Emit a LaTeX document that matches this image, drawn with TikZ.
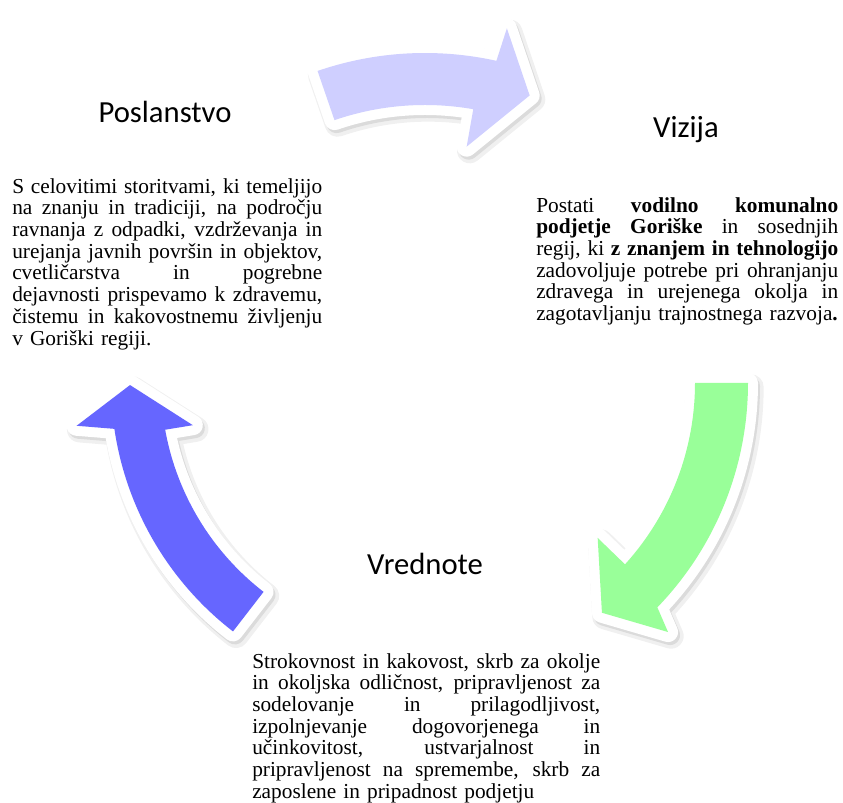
\documentclass[tikz,border=0pt]{standalone}
\usepackage{fontspec}
\setmainfont{Liberation Serif}
\newfontfamily\headfont{Carlito}
\usepackage{xcolor}
\usepackage{tikz}
\usetikzlibrary{positioning}

\definecolor{arrowlilac}{RGB}{207,207,255}
\definecolor{arrowgreen}{RGB}{153,255,153}
\definecolor{arrowblue}{RGB}{102,102,255}

\newlength{\blockwd}
\newcommand{\jline}[1]{\makebox[\blockwd][s]{\spaceskip=\fontdimen2\font plus 1fil\relax #1}}
\newcommand{\cyclearrow}[2]{%
    \begin{scope}[shift={(3,-4)}]
        \filldraw[gray!12, line width=19, line join=round] #2;
    \end{scope}
    \begin{scope}[shift={(2,-3)}]
        \filldraw[gray!28, line width=15, line join=round] #2;
    \end{scope}
    \draw[white, line width=15, line join=round] #2;
    \fill[#1] #2;
}

\begin{document}
\begin{tikzpicture}[x=0.75pt, y=0.75pt,
            heading/.style={font=\headfont\fontsize{23}{28}\selectfont, inner sep=0, anchor=base},
            body/.style={font=\fontsize{16}{16.3}\selectfont, inner sep=0, anchor=north west, align=left, text width=\blockwd}
        ]

        \useasboundingbox (0,0) rectangle (843,803);
        \coordinate (hub) at (425,420);

        \begin{scope}[shift={(hub)}]
            \cyclearrow{arrowlilac}{(109:330) arc[start angle=109, end angle=77.5, radius=330] -- (77:364) -- (70:306) -- (80:240) -- (80:278) arc[start angle=80, end angle=109, radius=278] -- cycle}
            \cyclearrow{arrowgreen}{(0:323) arc[start angle=0, end angle=-44, radius=323] -- (-45.7:348) -- (-52.4:290) -- (-41.9:232) -- (-42.2:270) arc[start angle=-42.2, end angle=0, radius=270] -- cycle}
            \cyclearrow{arrowblue}{(232.3:314) arc[start angle=232.3, end angle=188.4, radius=314] -- (187:351) -- (180.4:295) -- (190.3:236) -- (190.2:264) arc[start angle=190.2, end angle=232.3, radius=264] -- cycle}
        \end{scope}

        \node[heading] (poslanstvo) at (165,680) {Poslanstvo};
        \node[heading] (vizija) at (686,665) {Vizija};
        \node[heading] (vrednote) at (425,228) {Vrednote};

        \setlength{\blockwd}{232.5pt}
        \node[body] (poslanstvotext) at (12,625) {%
            \jline{S celovitimi storitvami, ki temeljijo}\\
            \jline{na znanju in tradiciji, na področju}\\
            \jline{ravnanja z odpadki, vzdrževanja in}\\
            \jline{urejanja javnih površin in objektov,}\\
            \jline{cvetličarstva in pogrebne}\\
            \jline{dejavnosti prispevamo k zdravemu,}\\
            \jline{čistemu in kakovostnemu življenju}\\
            v Goriški regiji.};

        \setlength{\blockwd}{226.5pt}
        \node[body] (vizijatext) at (536,606) {%
            \jline{Postati \textbf{vodilno komunalno}}\\
            \jline{\textbf{podjetje Goriške} in sosednjih}\\
            \jline{regij, ki \textbf{z znanjem in tehnologijo}}\\
            \jline{zadovoljuje potrebe pri ohranjanju}\\
            \jline{zdravega in urejenega okolja in}\\
            zagotavljanju trajnostnega razvoja\textbf{.}};

        \setlength{\blockwd}{261pt}
        \node[body] (vrednotetext) at (252,150) {%
            \jline{Strokovnost in kakovost, skrb za okolje}\\
            \jline{in okoljska odličnost, pripravljenost za}\\
            \jline{sodelovanje in prilagodljivost,}\\
            \jline{izpolnjevanje dogovorjenega in}\\
            \jline{učinkovitost, ustvarjalnost in}\\
            \jline{pripravljenost na spremembe, skrb za}\\
            zaposlene in pripadnost podjetju};

    \end{tikzpicture}
\end{document}
